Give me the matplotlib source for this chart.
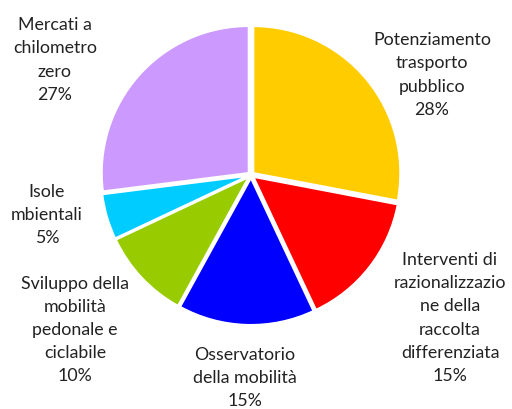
import matplotlib
matplotlib.use('Agg')
import matplotlib.pyplot as plt

labels = ['Potenziamento\ntrasporto\npubblico',
          'Interventi di\nrazionalizzazio\nne della\nraccolta\ndifferenziata',
          'Osservatorio\ndella mobilità',
          'Sviluppo della\nmobilità\npedonale e\nciclabile',
          'Isole\nmbientali',
          'Mercati a\nchilometro\nzero']
values = [28, 15, 15, 10, 5, 27]
colors = ['#FFCC00', '#FF0000', '#0000FF', '#99CC00', '#00CCFF', '#CC99FF']

# label centres in pixel coords (x, y from top)
label_pos = [(432, 75), (450, 318), (245, 378), (75, 330), (47, 215), (55, 60)]

plt.rcParams['font.family'] = ['Lato', 'DejaVu Sans']

fig = plt.figure(figsize=(5.12, 4.09), dpi=100)
ax = fig.add_axes([0, 0, 1, 1])

ax.pie(values, colors=colors, startangle=90, counterclock=False,
       center=(251, 409 - 175), radius=147, explode=[3] * len(values),
       wedgeprops=dict(edgecolor='white', linewidth=1.5))

# pie() resets the limits, so set them afterwards
ax.set_xlim(0, 512)
ax.set_ylim(0, 409)
ax.set_aspect('equal')
ax.axis('off')

for lab, v, (px, py) in zip(labels, values, label_pos):
    ax.text(px, 409 - py, lab + '\n' + str(v) + '%', ha='center', va='center',
            fontsize=12.8, linespacing=1.55, color='#222222')

fig.savefig('out.png', dpi=100)
